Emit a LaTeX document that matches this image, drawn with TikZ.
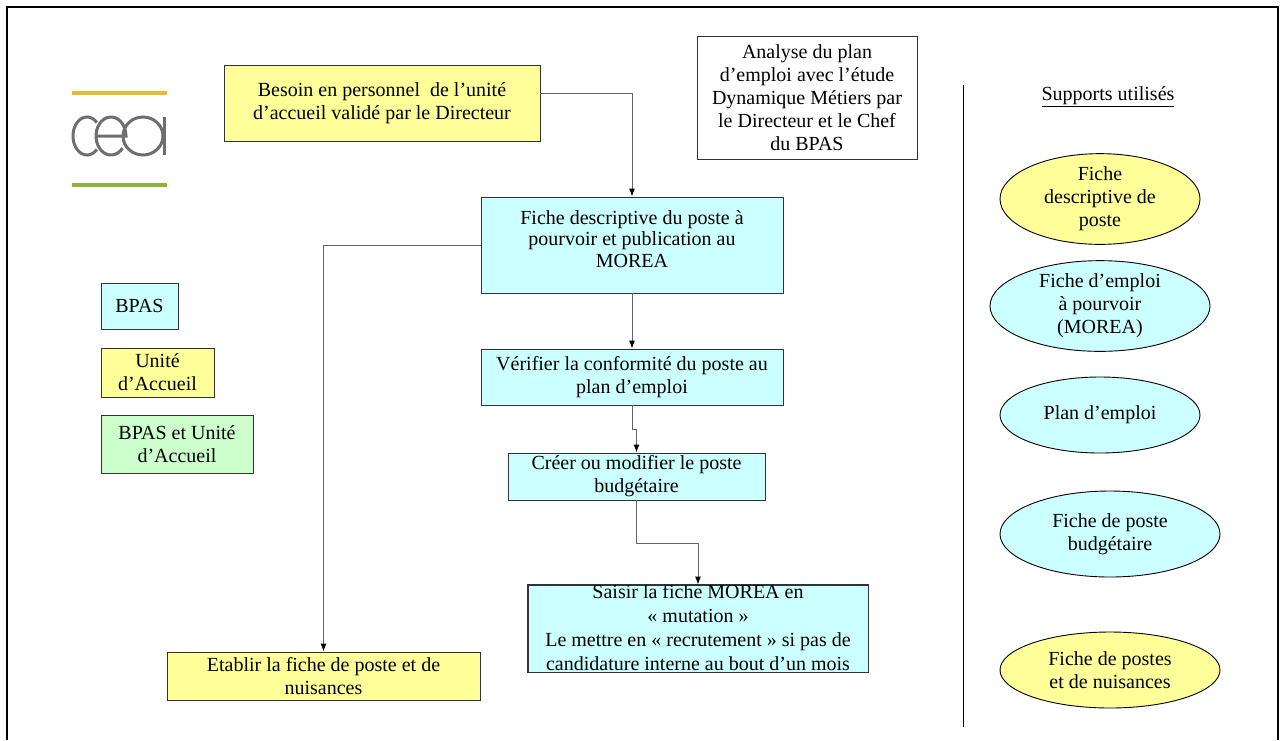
\documentclass[tikz,border=0pt]{standalone}
\usepackage{fontspec}
\setmainfont{Liberation Serif}
\usepackage{xcolor}
\usepackage{tikz}
\usetikzlibrary{arrows.meta,shapes.geometric}
\definecolor{ceayellow}{RGB}{255, 255, 153}
\definecolor{ceacyan}{RGB}{204, 255, 255}
\definecolor{ceagreen}{RGB}{204, 255, 204}
\definecolor{logoyellow}{RGB}{230, 185, 55}
\definecolor{logogreen}{RGB}{141, 179, 58}
\definecolor{logogray}{RGB}{110, 110, 110}
\definecolor{linkgray}{RGB}{100, 100, 100}
\tikzset{
  stepbox/.style={draw=black!80, line width=0.9pt, align=center, inner sep=2pt},
  unitebox/.style={stepbox, fill=ceayellow},
  bpasbox/.style={stepbox, fill=ceacyan},
  bothbox/.style={stepbox, fill=ceagreen},
  support/.style={ellipse, draw=black, line width=0.9pt, align=center, inner sep=0pt},
  link/.style={draw=linkgray, line width=1pt, -{Latex[length=8pt,width=6pt,color=black]}}
}

\begin{document}
\begin{tikzpicture}[x=1pt, y=-1pt, font=\fontsize{20}{23}\selectfont]
\useasboundingbox (0,0) rectangle (1282,740);
\draw[line width=2pt] (7,740) -- (7,7) -- (1278,7) -- (1278,740);

% logo
\draw[logoyellow, line width=4pt] (72,93) -- (167,93);
\draw[logogreen, line width=4pt] (72,185) -- (167,185);
\draw[logogray, line width=3pt] (87,136) ++(45:14 and 19) arc[start angle=45, end angle=315, x radius=14, y radius=19];
\draw[logogray, line width=3pt] (111,136) ++(40:15 and 19) arc[start angle=40, end angle=360, x radius=15, y radius=19] -- (96,136);
\draw[logogray, line width=3pt] (143,136) ellipse[x radius=20, y radius=19];
\draw[logogray, line width=3pt] (164,117) -- (164,155);

% legend
\node[bpasbox, minimum width=77pt, minimum height=46pt] (legbpas) at (139.5,306) {BPAS};
\node[unitebox, minimum width=113pt, minimum height=49pt] (legunite) at (157.5,372.5) {Unité\\d’Accueil};
\node[bothbox, minimum width=152pt, minimum height=58pt] (legboth) at (177,444) {BPAS et Unité\\d’Accueil};

% process
\node[unitebox, minimum width=316pt, minimum height=76pt] (besoin) at (382,103) {Besoin en personnel \ de l’unité\\d’accueil validé par le Directeur};
\node[stepbox, fill=white, minimum width=220pt, minimum height=123pt] (analyse) at (807,97.5) {Analyse du plan\\d’emploi avec l’étude\\Dynamique Métiers par\\le Directeur et le Chef\\du BPAS};
\node[bpasbox, minimum width=302pt, minimum height=96pt, font=\fontsize{20}{21.5}\selectfont, text depth=12pt] (fiche) at (632,245) {Fiche descriptive du poste à\\pourvoir et publication au\\MOREA};
\node[bpasbox, minimum width=302pt, minimum height=56pt] (verif) at (632,377) {Vérifier la conformité du poste au\\plan d’emploi};
\node[bpasbox, minimum width=257pt, minimum height=47pt] (creer) at (636.5,476.5) {Créer ou modifier le poste\\budgétaire};
\node[bpasbox, minimum width=340pt, minimum height=87pt] (saisir) at (698,628.5) {};
\begin{scope}
\clip (saisir.north west) rectangle (saisir.south east);
\node[align=center, anchor=north, inner sep=0pt, font=\fontsize{20}{24}\selectfont] (saisirtext) at (saisir.north) {Saisir la fiche MOREA en\\« mutation »\\Le mettre en « recrutement » si pas de\\candidature interne au bout d’un mois};
\end{scope}
\draw[draw=black!80, line width=0.9pt] (saisir.north west) rectangle (saisir.south east);
\node[unitebox, minimum width=313pt, minimum height=48pt] (etablir) at (323.5,676) {Etablir la fiche de poste et de\\nuisances};

\draw[link] ([yshift=10pt]besoin.east) -| (fiche.north);
\draw[link] (fiche.south) -- (verif.north);
\draw[link] (fiche.west) -| (etablir.north);
\draw[link] (verif.south) -- ++(0,24) -| (creer.north);
\draw[link] (creer.south) -- ++(0,43) -| (saisir.north);

% supports
\draw[line width=1pt] (963,85) -- (963,727);
\node (supports) at (1108,97) {\underline{Supports utilisés}};
\node[support, fill=ceayellow, minimum width=200pt, minimum height=77pt] (supfiche) at (1100,199) {Fiche\\descriptive de\\poste};
\node[support, fill=ceacyan, minimum width=220pt, minimum height=84pt] (supemploi) at (1100,306) {Fiche d’emploi\\à pourvoir\\(MOREA)};
\node[support, fill=ceacyan, minimum width=200pt, minimum height=76pt] (supplan) at (1100,415) {Plan d’emploi};
\node[support, fill=ceacyan, minimum width=220pt, minimum height=86pt] (supbudget) at (1110,534) {Fiche de poste\\budgétaire};
\node[support, fill=ceayellow, minimum width=220pt, minimum height=76pt] (supnuis) at (1110,670) {Fiche de postes\\et de nuisances};
\end{tikzpicture}
\end{document}
